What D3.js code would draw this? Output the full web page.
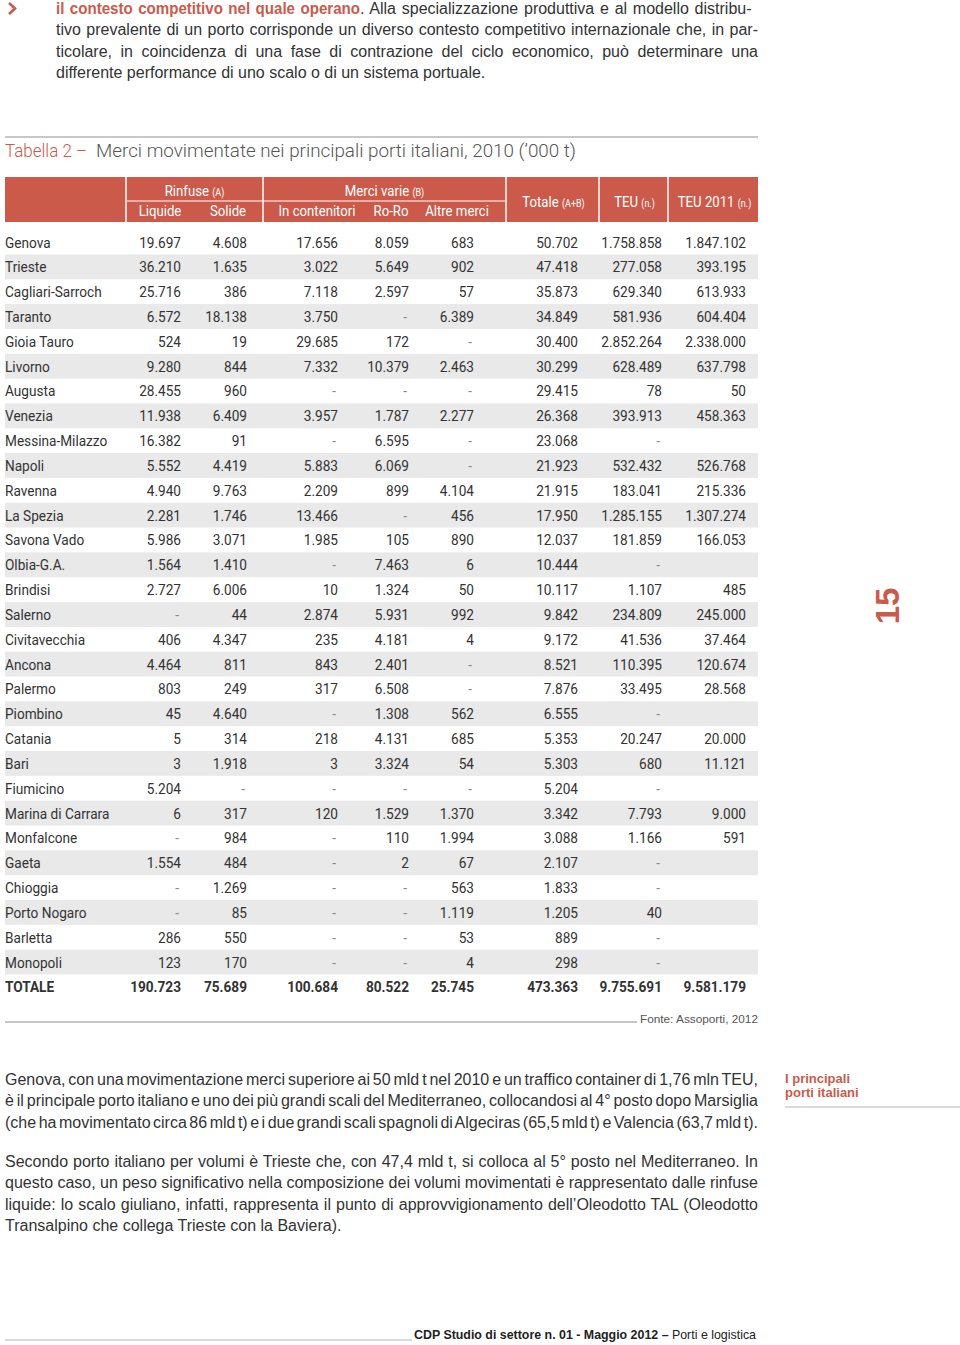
<!DOCTYPE html>
<html><head><meta charset="utf-8">
<script src="https://cdn.jsdelivr.net/npm/d3@7"></script>
<style>
html,body{margin:0;padding:0;background:#fff;}
svg{display:block;}
</style></head>
<body>
<script>
// ---------- DATA ----------
const ports = ["Genova","Trieste","Cagliari-Sarroch","Taranto","Gioia Tauro","Livorno","Augusta","Venezia","Messina-Milazzo","Napoli","Ravenna","La Spezia","Savona Vado","Olbia-G.A.","Brindisi","Salerno","Civitavecchia","Ancona","Palermo","Piombino","Catania","Bari","Fiumicino","Marina di Carrara","Monfalcone","Gaeta","Chioggia","Porto Nogaro","Barletta","Monopoli"];
// null = "-" ; "" = empty cell
const liquide = [19697,36210,25716,6572,524,9280,28455,11938,16382,5552,4940,2281,5986,1564,2727,null,406,4464,803,45,5,3,5204,6,null,1554,null,null,286,123];
const solide = [4608,1635,386,18138,19,844,960,6409,91,4419,9763,1746,3071,1410,6006,44,4347,811,249,4640,314,1918,null,317,984,484,1269,85,550,170];
const contenitori = [17656,3022,7118,3750,29685,7332,null,3957,null,5883,2209,13466,1985,null,10,2874,235,843,317,null,218,3,null,120,null,null,null,null,null,null];
const roro = [8059,5649,2597,null,172,10379,null,1787,6595,6069,899,null,105,7463,1324,5931,4181,2401,6508,1308,4131,3324,null,1529,110,2,null,null,null,null];
const altreMerci = [683,902,57,6389,null,2463,null,2277,null,null,4104,456,890,6,50,992,4,null,null,562,685,54,null,1370,1994,67,563,1119,53,4];
const totale = [50702,47418,35873,34849,30400,30299,29415,26368,23068,21923,21915,17950,12037,10444,10117,9842,9172,8521,7876,6555,5353,5303,5204,3342,3088,2107,1833,1205,889,298];
const teu = [1758858,277058,629340,581936,2852264,628489,78,393913,null,532432,183041,1285155,181859,null,1107,234809,41536,110395,33495,null,20247,680,null,7793,1166,null,null,40,null,null];
const teu2011 = [1847102,393195,613933,604404,2338000,637798,50,458363,"",526768,215336,1307274,166053,"",485,245000,37464,120674,28568,"",20000,11121,"",9000,591,"","","","",""];
const totalLabel = "TOTALE";
const totals = [190723,75689,100684,80522,25745,473363,9755691,9581179];

const columnKeys = ["Liquide","Solide","In contenitori","Ro-Ro","Altre merci","Totale","TEU","TEU 2011"];
const groupHeaders = [{t:"Rinfuse",s:"(A)",cols:["Liquide","Solide"]},{t:"Merci varie",s:"(B)",cols:["In contenitori","Ro-Ro","Altre merci"]}];
const singleHeaders = [{t:"Totale",s:"(A+B)",col:"Totale"},{t:"TEU",s:"(n.)",col:"TEU"},{t:"TEU 2011",s:"(n.)",col:"TEU 2011"}];

const titleRed = "Tabella 2 –";
const titleText = "Merci movimentate nei principali porti italiani, 2010 (’000 t)";
const sourceText = "Fonte: Assoporti, 2012";

const introRed = "il contesto competitivo nel quale operano";
const introLines = [
  ". Alla specializzazione produttiva e al modello distribu-",
  "tivo prevalente di un porto corrisponde un diverso contesto competitivo internazionale che, in par-",
  "ticolare, in coincidenza di una fase di contrazione del ciclo economico, può determinare una",
  "differente performance di uno scalo o di un sistema portuale."
];
const para1 = [
  "Genova, con una movimentazione merci superiore ai 50 mld t nel 2010 e un traffico container di 1,76 mln TEU,",
  "è il principale porto italiano e uno dei più grandi scali del Mediterraneo, collocandosi al 4° posto dopo Marsiglia",
  "(che ha movimentato circa 86 mld t) e i due grandi scali spagnoli di Algeciras (65,5 mld t) e Valencia (63,7 mld t)."
];
const para2 = [
  "Secondo porto italiano per volumi è Trieste che, con 47,4 mld t, si colloca al 5° posto nel Mediterraneo. In",
  "questo caso, un peso significativo nella composizione dei volumi movimentati è rappresentato dalle rinfuse",
  "liquide: lo scalo giuliano, infatti, rappresenta il punto di approvvigionamento dell’Oleodotto TAL (Oleodotto",
  "Transalpino che collega Trieste con la Baviera)."
];
const sideNote = ["I principali","porti italiani"];
const footerBold = "CDP Studio di settore n. 01 - Maggio 2012 – ";
const footerReg = "Porti e logistica";
const pageNumber = "15";

// ---------- SETUP ----------
const W = 960, H = 1345;
const RED = "#cb5a4b", TXT = "#333", GRAY = "#b5b5b5";
const BODY = "'Liberation Sans', Arial, sans-serif";
const COND = "Roboto, 'Liberation Sans', sans-serif";
const svg = d3.select("body").append("svg").attr("width", W).attr("height", H)
  .style("background", "#fff");

const itFmt = d3.formatLocale({decimal:",", thousands:".", grouping:[3], currency:["€",""]}).format(",d");

function justify(sel, target) {
  const n = sel.node();
  const len = n.getComputedTextLength();
  const txt = n.textContent;
  const spaces = (txt.match(/ /g) || []).length;
  if (spaces > 0) sel.attr("word-spacing", (target - len) / spaces);
}

// ---------- INTRO PARAGRAPH ----------
const introX = 56, introW = 702, lineH = 21.4;
svg.append("path").attr("d", "M9,3 L15,8.5 L9,14").attr("fill", "none")
  .attr("stroke", RED).attr("stroke-width", 2.6);
introLines.forEach((l, i) => {
  const t = svg.append("text").attr("x", introX).attr("y", 14 + i * lineH)
    .attr("font-family", BODY).attr("font-size", 16).attr("fill", TXT);
  if (i === 0) {
    t.append("tspan").attr("fill", RED).attr("font-weight", "bold")
      .attr("textLength", 304).attr("lengthAdjust", "spacingAndGlyphs").text(introRed);
  }
  t.append("tspan").text(l);
  if (i < introLines.length - 1) justify(t, introW);
});

// ---------- TITLE ----------
svg.append("line").attr("x1", 5).attr("x2", 758).attr("y1", 137).attr("y2", 137)
  .attr("stroke", GRAY).attr("stroke-width", 1.5);
const title = svg.append("text").attr("x", 5).attr("y", 157)
  .attr("font-family", "Roboto, sans-serif").attr("font-weight", 300).attr("font-size", 18.8);
title.append("tspan").attr("fill", RED).attr("textLength", 82).attr("lengthAdjust", "spacingAndGlyphs").text(titleRed);
title.append("tspan").attr("fill", "#555").attr("x", 96).attr("textLength", 480)
  .attr("lengthAdjust", "spacingAndGlyphs").text(titleText);

// ---------- TABLE ----------
const rows = ports.concat([totalLabel]);
const y = d3.scaleBand().domain(rows).range([229.6, 229.6 + rows.length * 24.83]).padding(0);
const colRight = d3.scaleOrdinal().domain(columnKeys).range([181, 247, 338, 409, 474, 578, 662, 746]);
// header cell boundaries
const colLeft = d3.scaleOrdinal().domain(columnKeys).range([127, 195, 264, 371, 424, 507, 600, 669]);
const colEnd = d3.scaleOrdinal().domain(columnKeys).range([195, 262, 371, 424, 505, 598, 667, 758]);

const series = [liquide, solide, contenitori, roro, altreMerci, totale, teu, teu2011];

// stripes
svg.append("g").selectAll("rect").data(rows.filter((d, i) => i % 2 === 1)).join("rect")
  .attr("x", 5).attr("width", 753).attr("y", d => y(d)).attr("height", y.bandwidth())
  .attr("fill", "#e9e9e9");

// header
const hy0 = 177, hy1 = 222, hmid = 201;
svg.append("rect").attr("x", 5).attr("y", hy0).attr("width", 753).attr("height", hy1 - hy0).attr("fill", RED);
const hg = svg.append("g");
[126, 263, 506, 599, 668].forEach(xx => hg.append("line").attr("x1", xx).attr("x2", xx)
  .attr("y1", hy0).attr("y2", hy1).attr("stroke", "#fff").attr("stroke-width", 1.5));
hg.append("line").attr("x1", 127).attr("x2", 505).attr("y1", hmid).attr("y2", hmid)
  .attr("stroke", "#fff").attr("stroke-width", 1.2);

const SX = 0.88;
function condText(g, x, yy, parts, anchor, size, weight, fill) {
  const gg = g.append("g").attr("transform", `translate(${x},${yy}) scale(${SX},1)`);
  const t = gg.append("text").attr("text-anchor", anchor).attr("font-family", COND)
    .attr("font-size", size).attr("font-weight", weight || "normal").attr("fill", fill);
  parts.forEach(p => {
    const ts = t.append("tspan").text(p.t);
    if (p.small) ts.attr("font-size", size * 0.68);
  });
  return t;
}
groupHeaders.forEach(gh => {
  const x0 = colLeft(gh.cols[0]), x1 = colEnd(gh.cols[gh.cols.length - 1]);
  condText(hg, (x0 + x1) / 2, 196, [{t: gh.t + " "}, {t: gh.s, small: true}], "middle", 15, "normal", "#fff");
});
const subCenters = {"Liquide":160, "Solide":228, "In contenitori":317, "Ro-Ro":391, "Altre merci":457};
["Liquide","Solide","In contenitori","Ro-Ro","Altre merci"].forEach(c => {
  condText(hg, subCenters[c], 216, [{t: c}], "middle", 15, "normal", "#fff");
});
singleHeaders.forEach(sh => {
  const cx = (colLeft(sh.col) + colEnd(sh.col)) / 2;
  condText(hg, cx + 1, 207, [{t: sh.t + " "}, {t: sh.s, small: true}], "middle", 15, "normal", "#fff");
});

// body rows
const body = svg.append("g");
rows.forEach((r, i) => {
  const isTot = i === rows.length - 1;
  const by = y(r) + y.bandwidth() / 2 + 5.5;
  condText(body, 5, by, [{t: r}], "start", 15.5, isTot ? "bold" : "normal", TXT);
  columnKeys.forEach((c, j) => {
    const v = isTot ? totals[j] : series[j][i];
    if (v === "" || v === undefined) return;
    if (v === null) {
      condText(body, colRight(c) - 2, by, [{t: "-"}], "end", 15.5, "normal", "#8a8a8a");
    } else {
      condText(body, colRight(c), by, [{t: itFmt(v)}], "end", 15.5, isTot ? "bold" : "normal", TXT);
    }
  });
});

// source
svg.append("line").attr("x1", 5).attr("x2", 637).attr("y1", 1022).attr("y2", 1022)
  .attr("stroke", GRAY).attr("stroke-width", 1.5);
svg.append("text").attr("x", 758).attr("y", 1023).attr("text-anchor", "end")
  .attr("font-family", BODY).attr("font-size", 11.8).attr("fill", "#555").text(sourceText);

// ---------- BODY PARAGRAPHS ----------
function para(lines, y0, justifyLast) {
  lines.forEach((l, i) => {
    const t = svg.append("text").attr("x", 5).attr("y", y0 + i * lineH)
      .attr("font-family", BODY).attr("font-size", 16).attr("fill", TXT).text(l);
    if (i < lines.length - 1 || justifyLast) justify(t, 753);
  });
}
para(para1, 1085, true);
para(para2, 1167, false);

// side note
sideNote.forEach((s, i) => svg.append("text").attr("x", 785).attr("y", 1083 + i * 14)
  .attr("font-family", BODY).attr("font-weight", "bold").attr("font-size", 13)
  .attr("fill", RED).text(s));
svg.append("line").attr("x1", 785).attr("x2", 960).attr("y1", 1107).attr("y2", 1107)
  .attr("stroke", GRAY).attr("stroke-width", 1.2);

// page number
svg.append("text").attr("transform", "translate(899,606) rotate(-90)")
  .attr("text-anchor", "middle").attr("font-family", BODY).attr("font-weight", "bold")
  .attr("font-size", 33).attr("fill", RED).text(pageNumber);

// footer
svg.append("line").attr("x1", 5).attr("x2", 412).attr("y1", 1340).attr("y2", 1340)
  .attr("stroke", GRAY).attr("stroke-width", 1.2);
const ft = svg.append("text").attr("x", 414).attr("y", 1339)
  .attr("font-family", BODY).attr("font-size", 12.4).attr("fill", "#222");
ft.append("tspan").attr("font-weight", "bold").text(footerBold);
ft.append("tspan").text(footerReg);
</script>
</body></html>
